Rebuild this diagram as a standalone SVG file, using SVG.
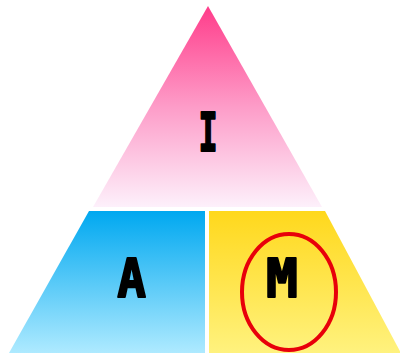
<svg xmlns="http://www.w3.org/2000/svg" width="400" height="353" viewBox="0 0 400 353">
<style>
.lbl{font-family:"DejaVu Sans Mono",monospace;font-weight:bold;font-size:53px;fill:#000;stroke:#000;stroke-width:2;stroke-linejoin:round;text-anchor:middle}
</style>
<defs>
<linearGradient id="gp" x1="0" y1="0" x2="0" y2="1">
<stop offset="0" stop-color="#ff3c8a"/>
<stop offset="0.5" stop-color="#fd9cc8"/>
<stop offset="1" stop-color="#fdf0fb"/>
</linearGradient>
<linearGradient id="gb" x1="0" y1="0" x2="0" y2="1">
<stop offset="0" stop-color="#00a8f0"/>
<stop offset="1" stop-color="#aeeaff"/>
</linearGradient>
<linearGradient id="gy" x1="0" y1="0" x2="0" y2="1">
<stop offset="0" stop-color="#ffd81c"/>
<stop offset="1" stop-color="#fff27e"/>
</linearGradient>
</defs>
<rect width="400" height="353" fill="#fff"/>
<g id="node-I">
<polygon points="208,6 322,207 93,207" fill="url(#gp)"/>
<text class="lbl" x="0" y="151" transform="translate(208,0) scale(0.6,1)">I</text>
</g>
<g id="node-A">
<polygon points="89,211 205,211 205,353 9,353" fill="url(#gb)"/>
<text class="lbl" x="0" y="297" transform="translate(131.5,0) scale(0.9,1)">A</text>
</g>
<g id="node-M">
<polygon points="209,211 325,211 401,353 209,353" fill="url(#gy)"/>
<text class="lbl" x="282" y="297">M</text>
</g>
<g id="connectors"></g>
<ellipse id="highlight" cx="289" cy="292" rx="47" ry="58" fill="none" stroke="#e8000a" stroke-width="4"/>
</svg>
